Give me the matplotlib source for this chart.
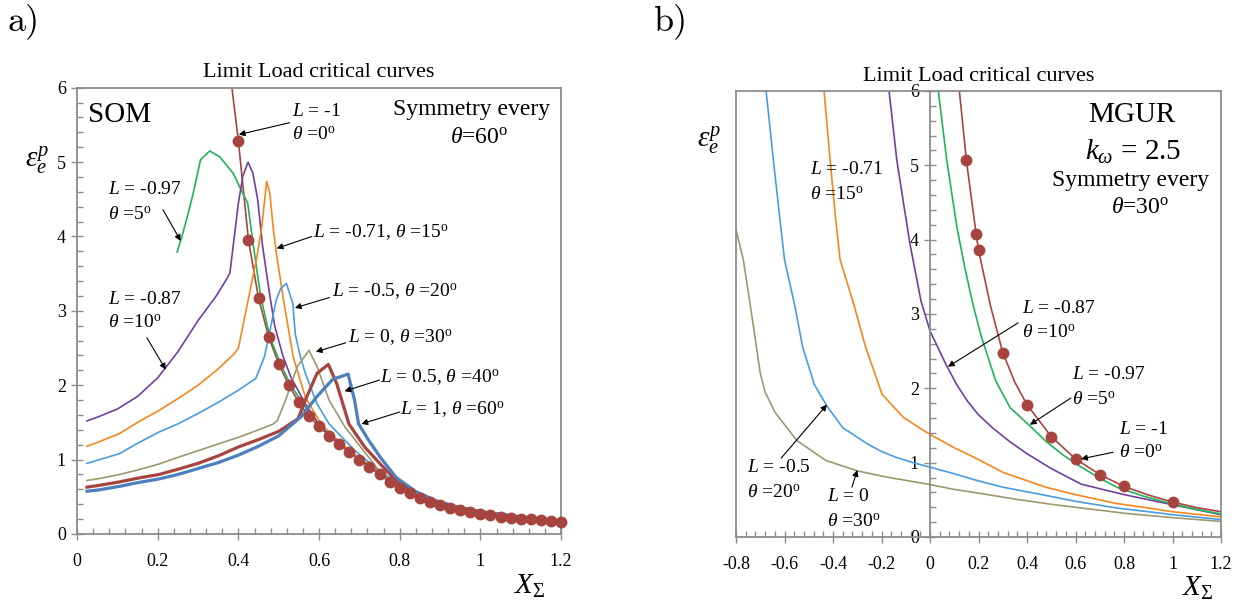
import matplotlib
matplotlib.use("Agg")
import matplotlib.pyplot as plt
from matplotlib.ticker import MultipleLocator, FuncFormatter

plt.rcParams['font.family'] = ['Liberation Serif', 'DejaVu Serif']
plt.rcParams['mathtext.fontset'] = 'custom'
plt.rcParams['mathtext.rm'] = 'Liberation Serif'
plt.rcParams['mathtext.it'] = 'Liberation Serif:italic'
plt.rcParams['mathtext.bf'] = 'Liberation Serif:bold'
plt.rcParams['axes.unicode_minus'] = False

# ---- colours
c_green = '#22b35a'
c_purple = '#7040a0'
c_orange = '#f7861e'
c_lblue = '#4a9ce0'
c_olive = '#9c9870'
c_red = '#a84440'
c_blue = '#4c7fbf'
c_spine = '#8c8c8c'

# ---- a) SOM data
som_dots_x = [0.400, 0.425, 0.450, 0.475, 0.500, 0.525, 0.550, 0.575, 0.600, 0.625,
              0.650, 0.675, 0.700, 0.725, 0.750, 0.775, 0.800, 0.825, 0.850, 0.875,
              0.900, 0.925, 0.950, 0.975, 1.000, 1.025, 1.050, 1.075, 1.100, 1.125,
              1.150, 1.175, 1.200]
som_dots_y = [5.28, 3.95, 3.17, 2.65, 2.29, 2.00, 1.77, 1.58, 1.45, 1.32,
              1.21, 1.10, 1.00, 0.90, 0.80, 0.70, 0.62, 0.55, 0.48, 0.43,
              0.39, 0.35, 0.32, 0.29, 0.27, 0.25, 0.235, 0.22, 0.205, 0.195,
              0.185, 0.175, 0.165]
som_l1_top = (0.384, 6.0)

som_g_x = [0.248, 0.26, 0.275, 0.288, 0.306, 0.329, 0.354, 0.387, 0.411, 0.423, 0.435,
           0.455, 0.478, 0.505, 0.53, 0.56, 0.60, 0.65, 0.70, 0.75, 0.80, 0.90, 1.0, 1.1, 1.2]
som_g_y = [3.79, 4.0, 4.3, 4.58, 5.03, 5.15, 5.07, 4.85, 4.58, 4.45, 3.96,
           3.2, 2.65, 2.28, 2.0, 1.75, 1.47, 1.22, 1.01, 0.82, 0.64, 0.42, 0.30, 0.22, 0.175]

som_p_x = [0.0245, 0.05, 0.10, 0.15, 0.20, 0.25, 0.30, 0.345, 0.37, 0.379, 0.387, 0.40, 0.411,
           0.424, 0.436, 0.448, 0.46, 0.477, 0.49, 0.51, 0.53, 0.566, 0.605, 0.65, 0.70,
           0.75, 0.80, 0.90, 1.0, 1.1, 1.2]
som_p_y = [1.52, 1.57, 1.68, 1.85, 2.10, 2.45, 2.87, 3.20, 3.42, 3.51, 3.87, 4.45, 4.81,
           5.0, 4.85, 4.49, 3.87, 3.24, 2.80, 2.40, 2.11, 1.75, 1.43, 1.22, 1.01,
           0.82, 0.64, 0.42, 0.30, 0.22, 0.175]

som_o_x = [0.0245, 0.05, 0.105, 0.15, 0.203, 0.25, 0.30, 0.35, 0.389, 0.40, 0.415, 0.43,
           0.445, 0.458, 0.47, 0.478, 0.486, 0.494, 0.512, 0.536, 0.566, 0.605, 0.65,
           0.70, 0.75, 0.80, 0.90, 1.0, 1.1, 1.2]
som_o_y = [1.18, 1.23, 1.35, 1.50, 1.66, 1.82, 2.0, 2.22, 2.42, 2.50, 2.90, 3.30,
           3.70, 4.13, 4.74, 4.58, 4.13, 3.78, 3.14, 2.38, 1.84, 1.48, 1.24,
           1.02, 0.83, 0.65, 0.42, 0.30, 0.22, 0.175]

som_b_x = [0.0245, 0.05, 0.105, 0.15, 0.203, 0.25, 0.30, 0.35, 0.399, 0.443, 0.465, 0.494,
           0.505, 0.519, 0.535, 0.541, 0.553, 0.566, 0.595, 0.625, 0.664, 0.693, 0.75,
           0.80, 0.90, 1.0, 1.1, 1.2]
som_b_y = [0.95, 0.99, 1.08, 1.22, 1.37, 1.48, 1.62, 1.77, 1.93, 2.09, 2.39, 3.15,
           3.30, 3.37, 3.10, 2.69, 2.40, 2.16, 1.75, 1.48, 1.26, 1.10, 0.85,
           0.66, 0.43, 0.30, 0.22, 0.175]

som_k_x = [0.0245, 0.05, 0.105, 0.15, 0.203, 0.25, 0.30, 0.35, 0.40, 0.45, 0.487, 0.497,
           0.517, 0.546, 0.575, 0.595, 0.625, 0.664, 0.703, 0.742, 0.78, 0.85, 0.90,
           1.0, 1.1, 1.2]
som_k_y = [0.72, 0.74, 0.80, 0.86, 0.94, 1.03, 1.12, 1.21, 1.30, 1.40, 1.48, 1.53,
           1.80, 2.25, 2.47, 2.25, 1.80, 1.44, 1.17, 0.90, 0.66, 0.50, 0.42,
           0.30, 0.22, 0.175]

som_r_x = [0.0245, 0.05, 0.105, 0.15, 0.203, 0.25, 0.30, 0.35, 0.40, 0.45, 0.50, 0.548,
           0.566, 0.595, 0.623, 0.644, 0.674, 0.713, 0.752, 0.791, 0.84, 0.889, 0.95,
           1.0, 1.1, 1.2]
som_r_y = [0.63, 0.65, 0.70, 0.75, 0.80, 0.87, 0.95, 1.05, 1.17, 1.27, 1.38, 1.55,
           1.80, 2.16, 2.28, 2.02, 1.48, 1.17, 0.94, 0.72, 0.56, 0.44, 0.35,
           0.30, 0.22, 0.175]

som_t_x = [0.0245, 0.05, 0.105, 0.15, 0.203, 0.25, 0.30, 0.35, 0.40, 0.45, 0.50, 0.556,
           0.595, 0.634, 0.672, 0.688, 0.698, 0.723, 0.752, 0.791, 0.84, 0.889, 0.95,
           1.0, 1.1, 1.2]
som_t_y = [0.575, 0.59, 0.64, 0.69, 0.74, 0.80, 0.88, 0.96, 1.06, 1.18, 1.32, 1.58,
           1.85, 2.08, 2.15, 1.80, 1.48, 1.26, 1.03, 0.76, 0.57, 0.45, 0.35,
           0.30, 0.23, 0.18]

# ---- b) MGUR data
mg_dots_x = [0.15, 0.19, 0.20, 0.30, 0.40, 0.50, 0.60, 0.70, 0.80, 1.00]
mg_dots_y = [5.065, 4.08, 3.86, 2.48, 1.78, 1.35, 1.05, 0.84, 0.68, 0.47]
mg_r_x = [0.121, 0.15, 0.19, 0.20, 0.25, 0.30, 0.35, 0.40, 0.50, 0.60, 0.70, 0.80, 0.90, 1.0, 1.1, 1.2]
mg_r_y = [6.0, 5.065, 4.08, 3.86, 3.10, 2.48, 2.08, 1.78, 1.35, 1.05, 0.84, 0.68, 0.565, 0.47, 0.395, 0.34]

mg_g_x = [0.034, 0.069, 0.11, 0.145, 0.179, 0.213, 0.271, 0.33, 0.41, 0.477, 0.55, 0.624,
          0.70, 0.77, 0.88, 0.99, 1.1, 1.2]
mg_g_y = [6.0, 5.07, 4.18, 3.60, 3.10, 2.68, 2.10, 1.74, 1.50, 1.29, 1.10, 0.94,
          0.79, 0.67, 0.55, 0.45, 0.37, 0.31]

mg_p_x = [-0.169, -0.137, -0.105, -0.082, -0.037, 0.0, 0.066, 0.11, 0.154, 0.198, 0.257,
          0.33, 0.40, 0.50, 0.624, 0.80, 0.917, 1.2]
mg_p_y = [6.0, 5.07, 4.40, 3.93, 3.17, 2.77, 2.32, 2.05, 1.83, 1.65, 1.47,
          1.28, 1.12, 0.92, 0.71, 0.57, 0.49, 0.30]

mg_o_x = [-0.437, -0.412, -0.39, -0.371, -0.318, -0.266, -0.198, -0.15, -0.11, -0.05, 0.0,
          0.10, 0.183, 0.30, 0.477, 0.60, 0.77, 0.90, 1.0, 1.2]
mg_o_y = [6.0, 5.07, 4.30, 3.73, 3.17, 2.56, 1.92, 1.75, 1.61, 1.48, 1.38,
          1.20, 1.07, 0.87, 0.67, 0.57, 0.45, 0.39, 0.34, 0.27]

mg_b_x = [-0.676, -0.646, -0.62, -0.60, -0.557, -0.525, -0.477, -0.425, -0.36, -0.257, -0.20,
          -0.139, -0.07, 0.0, 0.10, 0.183, 0.30, 0.477, 0.60, 0.77, 0.90, 1.0, 1.2]
mg_b_y = [6.0, 5.07, 4.30, 3.73, 3.10, 2.55, 2.05, 1.76, 1.47, 1.25, 1.15,
          1.07, 1.00, 0.94, 0.85, 0.77, 0.67, 0.56, 0.48, 0.39, 0.34, 0.30, 0.235]

mg_k_x = [-0.801, -0.77, -0.745, -0.72, -0.70, -0.68, -0.64, -0.55, -0.43, -0.30, -0.20,
          -0.15, 0.0, 0.10, 0.2, 0.35, 0.5, 0.65, 0.8, 1.0, 1.2]
mg_k_y = [4.15, 3.73, 3.20, 2.65, 2.20, 1.95, 1.68, 1.30, 1.03, 0.89, 0.82,
          0.79, 0.705, 0.64, 0.59, 0.51, 0.44, 0.38, 0.32, 0.26, 0.21]

lw_thin = 1.2
lw_thick = 2.3
fs_ann = 14
fs_tick = 13
arrow = dict(arrowstyle='-|>', color='black', lw=0.8, mutation_scale=9, shrinkA=0, shrinkB=0)

fig = plt.figure(figsize=(12.49, 6.01), dpi=100)
ax1 = fig.add_axes([0.0617, 0.1115, 0.3875, 0.7425])
ax2 = fig.add_axes([0.5893, 0.1065, 0.3883, 0.7422])

fmt = FuncFormatter(lambda v, p: '%g' % round(v, 2))


def style_axes(ax):
    for s in ax.spines.values():
        s.set_color(c_spine)
        s.set_linewidth(1.3)
    ax.yaxis.set_major_locator(MultipleLocator(1))
    ax.yaxis.set_minor_locator(MultipleLocator(0.2))
    ax.xaxis.set_major_locator(MultipleLocator(0.2))
    ax.xaxis.set_minor_locator(MultipleLocator(0.04))
    ax.xaxis.set_major_formatter(fmt)
    ax.yaxis.set_major_formatter(fmt)
    ax.tick_params(axis='both', which='major', direction='inout', length=8, width=1.0,
                   color=c_spine, labelsize=fs_tick)
    ax.tick_params(axis='both', which='minor', direction='in', length=4, width=1.0,
                   color=c_spine)
    ax.tick_params(axis='x', which='major', pad=10)
    ax.tick_params(axis='y', which='major', pad=4)


# ================= a) SOM
ax = ax1
ax.plot([som_l1_top[0]] + som_dots_x, [som_l1_top[1]] + som_dots_y, color=c_red, lw=1.2)
ax.plot(som_dots_x, som_dots_y, 'o', color=c_red, ms=7.5, clip_on=False, zorder=3)
ax.plot(som_g_x, som_g_y, color=c_green, lw=lw_thin)
ax.plot(som_p_x, som_p_y, color=c_purple, lw=lw_thin)
ax.plot(som_o_x, som_o_y, color=c_orange, lw=lw_thin)
ax.plot(som_b_x, som_b_y, color=c_lblue, lw=lw_thin)
ax.plot(som_k_x, som_k_y, color=c_olive, lw=lw_thin)
ax.plot(som_r_x, som_r_y, color=c_red, lw=lw_thick)
ax.plot(som_t_x, som_t_y, color=c_blue, lw=lw_thick)
ax.set_xlim(0, 1.2)
ax.set_ylim(0, 6)
style_axes(ax)
ax.set_title('Limit Load critical curves', fontsize=16, pad=7.5)

ax.text(0.027, 5.64, 'SOM', fontsize=21, va='center')
ax.text(0.978, 5.71, 'Symmetry every', fontsize=17, ha='center', va='center')
ax.text(0.998, 5.33, r'$\theta$=60$^{\mathrm{o}}$', fontsize=17, ha='center', va='center')

ax.text(0.532, 5.68, r'$L$ = -1', fontsize=fs_ann, va='center')
ax.text(0.532, 5.37, r'$\theta$ =0$^{\mathrm{o}}$', fontsize=fs_ann, va='center')
ax.annotate('', xy=(0.401, 5.37), xytext=(0.527, 5.53), arrowprops=arrow)

ax.text(0.077, 4.63, r'$L$ = -0.97', fontsize=fs_ann, va='center')
ax.text(0.077, 4.29, r'$\theta$ =5$^{\mathrm{o}}$', fontsize=fs_ann, va='center')
ax.annotate('', xy=(0.257, 3.94), xytext=(0.213, 4.36), arrowprops=arrow)

ax.text(0.077, 3.15, r'$L$ = -0.87', fontsize=fs_ann, va='center')
ax.text(0.077, 2.84, r'$\theta$ =10$^{\mathrm{o}}$', fontsize=fs_ann, va='center')
ax.annotate('', xy=(0.22, 2.21), xytext=(0.173, 2.64), arrowprops=arrow)

ax.text(0.584, 4.05, r'$L$ = -0.71, $\theta$ =15$^{\mathrm{o}}$', fontsize=fs_ann, va='center')
ax.annotate('', xy=(0.495, 3.84), xytext=(0.582, 4.0), arrowprops=arrow)

ax.text(0.631, 3.26, r'$L$ = -0.5, $\theta$ =20$^{\mathrm{o}}$', fontsize=fs_ann, va='center')
ax.annotate('', xy=(0.54, 3.04), xytext=(0.626, 3.18), arrowprops=arrow)

ax.text(0.671, 2.64, r'$L$ = 0, $\theta$ =30$^{\mathrm{o}}$', fontsize=fs_ann, va='center')
ax.annotate('', xy=(0.592, 2.45), xytext=(0.666, 2.57), arrowprops=arrow)

ax.text(0.75, 2.10, r'$L$ = 0.5, $\theta$ =40$^{\mathrm{o}}$', fontsize=fs_ann, va='center')
ax.annotate('', xy=(0.663, 1.92), xytext=(0.75, 2.07), arrowprops=arrow)

ax.text(0.80, 1.67, r'$L$ = 1, $\theta$ =60$^{\mathrm{o}}$', fontsize=fs_ann, va='center')
ax.annotate('', xy=(0.705, 1.48), xytext=(0.80, 1.64), arrowprops=arrow)

ax.text(-0.083, 0.839, r'$\varepsilon_e^p$', fontsize=21, ha='center', va='center',
        transform=ax.transAxes)
ax.text(0.936, -0.088, r'$X_\Sigma$', fontsize=21, ha='center', va='top',
        transform=ax.transAxes)

# ================= b) MGUR
ax = ax2
ax.plot(mg_k_x, mg_k_y, color=c_olive, lw=lw_thin)
ax.plot(mg_b_x, mg_b_y, color=c_lblue, lw=lw_thin)
ax.plot(mg_o_x, mg_o_y, color=c_orange, lw=lw_thin)
ax.plot(mg_p_x, mg_p_y, color=c_purple, lw=lw_thin)
ax.plot(mg_g_x, mg_g_y, color=c_green, lw=lw_thin)
ax.plot(mg_r_x, mg_r_y, color=c_red, lw=lw_thin)
ax.plot(mg_dots_x, mg_dots_y, 'o', color=c_red, ms=7.5, zorder=3)
ax.set_xlim(-0.8, 1.2)
ax.set_ylim(0, 6)
style_axes(ax)
ax.spines['left'].set_position(('data', 0))
ax.axvline(-0.8, color=c_spine, lw=1.3, clip_on=False)
ax.set_title('Limit Load critical curves', fontsize=16, pad=7)

ax.text(0.833, 5.68, 'MGUR', fontsize=21, ha='center', va='center')
ax.text(0.837, 5.18, r'$k_\omega$ = 2.5', fontsize=21, ha='center', va='center')
ax.text(0.825, 4.80, 'Symmetry every', fontsize=17, ha='center', va='center')
ax.text(0.866, 4.43, r'$\theta$=30$^{\mathrm{o}}$', fontsize=17, ha='center', va='center')

ax.text(-0.495, 4.94, r'$L$ = -0.71', fontsize=fs_ann, va='center')
ax.text(-0.495, 4.60, r'$\theta$ =15$^{\mathrm{o}}$', fontsize=fs_ann, va='center')

ax.text(0.379, 3.08, r'$L$ = -0.87', fontsize=fs_ann, va='center')
ax.text(0.379, 2.75, r'$\theta$ =10$^{\mathrm{o}}$', fontsize=fs_ann, va='center')
ax.annotate('', xy=(0.074, 2.29), xytext=(0.363, 2.88), arrowprops=arrow)

ax.text(0.586, 2.18, r'$L$ = -0.97', fontsize=fs_ann, va='center')
ax.text(0.586, 1.84, r'$\theta$ =5$^{\mathrm{o}}$', fontsize=fs_ann, va='center')
ax.annotate('', xy=(0.412, 1.51), xytext=(0.581, 1.87), arrowprops=arrow)

ax.text(0.779, 1.44, r'$L$ = -1', fontsize=fs_ann, va='center')
ax.text(0.779, 1.13, r'$\theta$ =0$^{\mathrm{o}}$', fontsize=fs_ann, va='center')
ax.annotate('', xy=(0.623, 1.05), xytext=(0.755, 1.14), arrowprops=arrow)

ax.text(-0.755, 0.94, r'$L$ = -0.5', fontsize=fs_ann, va='center')
ax.text(-0.755, 0.59, r'$\theta$ =20$^{\mathrm{o}}$', fontsize=fs_ann, va='center')
ax.annotate('', xy=(-0.425, 1.78), xytext=(-0.614, 1.06), arrowprops=arrow)

ax.text(-0.425, 0.54, r'$L$ = 0', fontsize=fs_ann, va='center')
ax.text(-0.425, 0.20, r'$\theta$ =30$^{\mathrm{o}}$', fontsize=fs_ann, va='center')
ax.annotate('', xy=(-0.30, 0.90), xytext=(-0.322, 0.67), arrowprops=arrow)

ax.text(-0.056, 0.89, r'$\varepsilon_e^p$', fontsize=21, ha='center', va='center',
        transform=ax.transAxes)
ax.text(0.952, -0.085, r'$X_\Sigma$', fontsize=21, ha='center', va='top',
        transform=ax.transAxes)

fig.text(0.006, 0.965, 'a)', fontsize=26, fontname='cmr10', va='center')
fig.text(0.523, 0.965, 'b)', fontsize=26, fontname='cmr10', va='center')

fig.savefig('out.png', dpi=100)
